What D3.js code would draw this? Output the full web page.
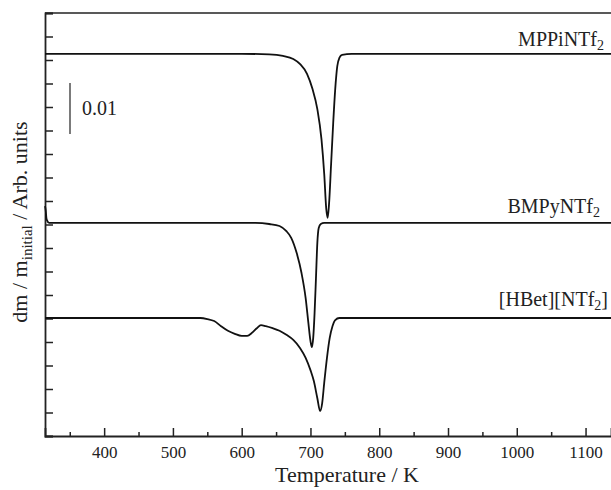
<!DOCTYPE html>
<html><head><meta charset="utf-8">
<script src="https://cdn.jsdelivr.net/npm/d3@7"></script>
<style>body{margin:0;background:#fff}svg{display:block}text{font-family:"Liberation Serif","Times New Roman",serif;fill:#222}</style>
</head><body>
<script>
// Temperature (K) vs dm/m_initial (x1e-3, positive = mass-loss depth below each baseline)
const seriesNames = ["MPPiNTf2", "BMPyNTf2", "[HBet][NTf2]"];
const offsets = [-8.0, -41.1, -59.7];
const mppi = [[314,0],[600,0],[640,0.1],[660,0.4],[675,1.0],[685,2.0],[695,3.9],[703,6.9],[710,10.8],[716,16.7],[720,23.5],[723,30.4],[725,32.1],[727,29.4],[730,21.6],[733,13.7],[736,6.9],[739,2.4],[742,0.8],[746,0.2],[760,0],[1137,0]];
const bmpy = [[314,-3.3],[315,-2.5],[316,-1.0],[317,-0.5],[320,0],[620,0],[640,0.2],[655,0.6],[665,1.6],[672,2.9],[680,5.9],[687,9.8],[693,14.7],[697,19.6],[700,23.1],[702,24.3],[704,22.5],[706,17.6],[708,10.8],[710,3.9],[712,1.0],[715,0.2],[720,0],[1137,0]];
const hbet = [[314,0],[540,0],[550,0.2],[560,0.6],[570,1.6],[580,2.5],[590,3.1],[600,3.5],[608,3.5],[615,2.9],[622,2.0],[628,1.4],[635,1.6],[645,2.0],[655,2.5],[665,3.3],[675,4.3],[685,5.9],[693,7.8],[700,10.2],[705,12.4],[710,15.7],[714,18.2],[717,16.7],[720,12.7],[724,7.8],[728,3.9],[732,1.6],[736,0.4],[742,0],[1137,0]];
const xTicks = [400,500,600,700,800,900,1000,1100];
const xMinor = [350,450,550,650,750,850,950,1050];
const yTickStep = 4.6;
const scaleBar = [-13.7, -23.7];
const scaleLabel = "0.01";

const W = 611, H = 490;
const svg = d3.select("body").append("svg").attr("width", W).attr("height", H);
const x = d3.scaleLinear().domain([314, 1137]).range([45, 611]);
const y = d3.scaleLinear().domain([-82.8, 0]).range([436, 13]);

const g = svg.append("g");
g.append("line").attr("x1", 45).attr("x2", 611).attr("y1", y(0)).attr("y2", y(0)).attr("stroke", "#222").attr("stroke-width", 1.5);

const xAxis = d3.axisBottom(x).tickValues(xTicks).tickSize(-8).tickPadding(10).tickFormat(d3.format("d"));
const xa = g.append("g").attr("transform", `translate(0,${y(-82.8)})`).call(xAxis);
xa.select(".domain").attr("stroke", "#222").attr("stroke-width", 1.8);
xa.selectAll(".tick line").attr("stroke", "#222").attr("stroke-width", 1.5);
xa.selectAll("text").attr("font-size", 17).attr("fill", "#222").style("font-family", "Liberation Serif");
const xm = g.append("g").attr("transform", `translate(0,${y(-82.8)})`).call(d3.axisBottom(x).tickValues(xMinor).tickSize(-4).tickFormat(""));
xm.select(".domain").remove();
xm.selectAll(".tick line").attr("stroke", "#222").attr("stroke-width", 1.5);

const yVals = d3.range(0, -82.81, -yTickStep);
const ya = g.append("g").attr("transform", `translate(${x(314)},0)`).call(d3.axisLeft(y).tickValues(yVals).tickSize(-8).tickFormat(""));
ya.select(".domain").attr("stroke", "#222").attr("stroke-width", 1.8);
ya.selectAll(".tick line").attr("stroke", "#222").attr("stroke-width", 1.5);

const line = d3.line().x(d => x(d[0])).curve(d3.curveMonotoneX);
[mppi, bmpy, hbet].forEach((s, i) => {
  svg.append("path").datum(s)
    .attr("d", line.y(d => y(offsets[i] - d[1])))
    .attr("fill", "none").attr("stroke", "#111").attr("stroke-width", 1.8);
});

const labX = [604, 600, 608];
const labYoff = [-1.6, -1.9, -2.3];
[["MPPiNTf","2",""],["BMPyNTf","2",""],["[HBet][NTf","2","]"]].forEach((parts, i) => {
  const t = svg.append("text").attr("x", labX[i]).attr("y", y(offsets[i] - labYoff[i])).attr("text-anchor", "end").attr("font-size", 20);
  t.append("tspan").text(parts[0]);
  t.append("tspan").text(parts[1]).attr("font-size", 14).attr("dy", 4);
  if (parts[2]) t.append("tspan").text(parts[2]).attr("dy", -4);
});

svg.append("line").attr("x1", 70).attr("x2", 70).attr("y1", y(scaleBar[0])).attr("y2", y(scaleBar[1])).attr("stroke", "#222").attr("stroke-width", 1.2);
svg.append("text").attr("x", 82).attr("y", (y(scaleBar[0]) + y(scaleBar[1])) / 2 + 6).attr("font-size", 20).text(scaleLabel);

svg.append("text").attr("x", 347).attr("y", 482).attr("text-anchor", "middle").attr("font-size", 22).text("Temperature / K");
const yt = svg.append("text").attr("transform", "translate(27,222) rotate(-90)").attr("text-anchor", "middle").attr("font-size", 22);
yt.append("tspan").text("dm / m");
yt.append("tspan").text("initial").attr("font-size", 15).attr("dy", 5);
yt.append("tspan").text(" / Arb. units").attr("dy", -5);
</script>
</body></html>
